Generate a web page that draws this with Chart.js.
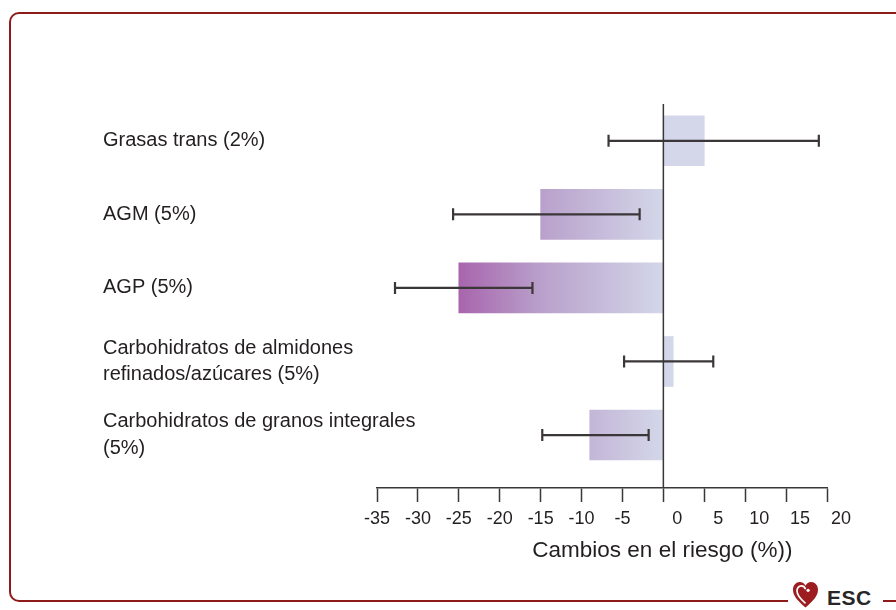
<!DOCTYPE html>
<html>
<head>
<meta charset="utf-8">
<script src="https://cdn.jsdelivr.net/npm/chart.js@4.4.1/dist/chart.umd.min.js"></script>
<style>
  html, body { margin: 0; padding: 0; background: #fff; }
  #wrap { position: relative; width: 896px; height: 610px; overflow: hidden; }
  #frame {
    position: absolute; left: 9px; top: 12px; width: 920px; height: 590px;
    border: 2px solid #8e1b1a; border-radius: 10px; box-sizing: border-box;
  }
  #chart { position: absolute; left: 0; top: 0; }
  #logo {
    position: absolute; left: 788px; top: 576px; width: 95px; height: 34px;
    background: #fff;
  }
  #logo svg { position: absolute; left: 5px; top: 6px; }
  #logo span {
    position: absolute; left: 39px; top: 11px;
    font: bold 21px "Liberation Sans", Arial, sans-serif; color: #2a2627;
    letter-spacing: 0.5px; line-height: 21px;
  }
</style>
</head>
<body>
<div id="wrap">
  <div id="frame"></div>
  <canvas id="chart" width="896" height="610"></canvas>
  <div id="logo">
    <svg width="25" height="26" viewBox="0 0 24 25">
      <path d="M12 24.5 C 4 18, 0 13, 0 7.5 C 0 3, 3 0, 6.5 0 C 9 0, 11 1.5, 12 3.5 C 13 1.5, 15 0, 17.5 0 C 21 0, 24 3, 24 7.5 C 24 13, 20 18, 12 24.5 Z" fill="#9c1c1f"/>
      <path d="M12 20.5 C 6.5 16, 3.8 12.5, 3.8 8.5 C 3.8 5.8, 5.6 3.8, 8 3.8 C 10 3.8, 11.4 5, 12 7" fill="none" stroke="#fff" stroke-width="1.6"/>
      <circle cx="14.5" cy="8" r="1.6" fill="#fff"/>
    </svg>
    <span>ESC</span>
  </div>
</div>
<script>
// --- data ---
const categories = [
    "Grasas trans (2%)",
    "AGM (5%)",
    "AGP (5%)",
    ["Carbohidratos de almidones", "refinados/azúcares (5%)"],
    ["Carbohidratos de granos integrales", "(5%)"]
];
const riskChange = [5, -15, -25, 1.2, -9];
const ciLow = [-6.7, -25.7, -32.8, -4.8, -14.8];
const ciHigh = [19, -2.9, -16, 6.1, -1.8];
const xTicks = [-35, -30, -25, -20, -15, -10, -5, 0, 5, 10, 15, 20];

const FONT = '"Liberation Sans", Arial, sans-serif';
const INK = "#3b3738";
Chart.defaults.font.family = FONT;

// gradient across the x scale, dark purple at -25 fading to pale blue at 0
function barFill(c) {
    const chart = c.chart;
    const x = chart.scales.x;
    if (!chart.chartArea || !x) return "#d2d6e8";
    const g = chart.ctx.createLinearGradient(x.getPixelForValue(-25), 0, x.getPixelForValue(0), 0);
    g.addColorStop(0, "#a865ad");
    g.addColorStop(0.4, "#b9a0cb");
    g.addColorStop(1, "#d3d7e9");
    return g;
}

// --- zero line, error bars, x labels, axis title ---
const overlay = {
    id: "overlay",
    afterDatasetsDraw(chart) {
        const { ctx, chartArea, scales: { x, y } } = chart;
        ctx.save();
        ctx.strokeStyle = INK;
        const x0 = x.getPixelForValue(0);
        ctx.lineWidth = 1.5;
        ctx.beginPath();
        ctx.moveTo(x0, chartArea.top);
        ctx.lineTo(x0, chartArea.bottom);
        ctx.stroke();

        ctx.lineWidth = 2.2;
        categories.forEach((c, i) => {
            const yp = y.getPixelForValue(i);
            const a = x.getPixelForValue(ciLow[i]);
            const b = x.getPixelForValue(ciHigh[i]);
            ctx.beginPath();
            ctx.moveTo(a, yp); ctx.lineTo(b, yp);
            ctx.moveTo(a, yp - 6); ctx.lineTo(a, yp + 6);
            ctx.moveTo(b, yp - 6); ctx.lineTo(b, yp + 6);
            ctx.stroke();
        });
        ctx.restore();
    },
    afterDraw(chart) {
        const { ctx, scales: { x } } = chart;
        ctx.save();
        ctx.fillStyle = "#231f20";
        ctx.textAlign = "center";
        ctx.textBaseline = "middle";
        ctx.font = "18px " + FONT;
        // labels from 0 upward sit a little right of their tick marks in the original
        xTicks.forEach(v => {
            ctx.fillText(String(v), x.getPixelForValue(v) + (v >= 0 ? 14 : 0), x.top + 31);
        });
        ctx.font = "22.5px " + FONT;
        ctx.fillText("Cambios en el riesgo (%))", x.getPixelForValue(0) - 1, x.top + 63);
        ctx.restore();
    }
};

new Chart(document.getElementById("chart"), {
    type: "bar",
    data: {
        datasets: [{
            data: riskChange.map((v, i) => ({ x: v, y: i })),
            backgroundColor: barFill,
            borderWidth: 0,
            barThickness: 50
        }]
    },
    options: {
        indexAxis: "y",
        responsive: false,
        animation: false,
        layout: { padding: { left: 103, right: 69, top: 104, bottom: 0 } },
        plugins: { legend: { display: false }, tooltip: { enabled: false } },
        scales: {
            x: {
                type: "linear",
                min: -35,
                max: 20,
                afterBuildTicks: s => { s.ticks = xTicks.map(v => ({ value: v })); },
                grid: { drawOnChartArea: false, drawTicks: true, tickLength: 14, tickColor: INK, tickWidth: 1.5 },
                border: { display: true, color: INK, width: 1.5 },
                ticks: { color: "rgba(0,0,0,0)", font: { size: 18 } },
                afterFit: s => { s.height = 122; }
            },
            y: {
                type: "linear",
                reverse: true,
                offset: false,
                min: -0.5,
                max: 4.72,
                afterBuildTicks: s => { s.ticks = categories.map((c, i) => ({ value: i })); },
                grid: { display: false },
                border: { display: false },
                ticks: {
                    callback: v => categories[v],
                    mirror: true,
                    crossAlign: "near",
                    color: "#231f20",
                    padding: -274,
                    font: { size: 20, lineHeight: 1.33 }
                },
                afterFit: s => { s.width = 274; }
            }
        }
    },
    plugins: [overlay]
});
</script>
</body>
</html>
